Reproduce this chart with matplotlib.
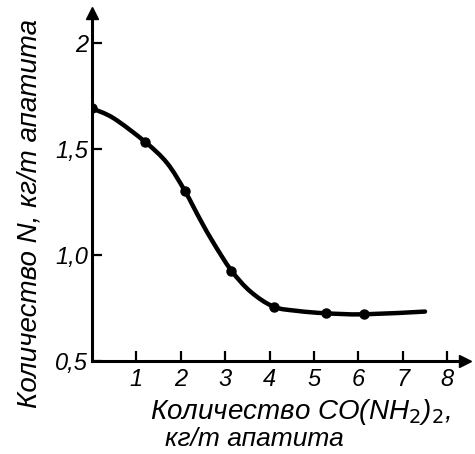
import matplotlib.pyplot as plt
from matplotlib.path import Path
import matplotlib.patches as patches

urea = [0, 1.2, 2.09, 3.14, 4.09, 5.26, 6.12]
nitrogen = [1.69, 1.532, 1.302, 0.926, 0.756, 0.725, 0.72]

# points
curve_x = [0, 0.48, 1.2, 1.69, 2.09, 2.44, 2.74, 3.14, 3.57, 4.09, 4.63, 5.26, 6.12, 7.5]
curve_y = [1.69, 1.645, 1.532, 1.433, 1.302, 1.165, 1.055, 0.926, 0.827, 0.756, 0.736, 0.725,
           0.72, 0.733]

xticks = [1, 2, 3, 4, 5, 6, 7, 8]
yticks = [0.5, 1.0, 1.5, 2.0]
ytick_labels = ["0,5", "1,0", "1,5", "2"]


def smooth_path(xs, ys):
    # Catmull-Rom through the read points, drawn as cubic bezier segments
    pts = list(zip(xs, ys))
    verts = [pts[0]]
    codes = [Path.MOVETO]
    n = len(pts)
    for i in range(n - 1):
        p0 = pts[i - 1] if i > 0 else pts[i]
        p1 = pts[i]
        p2 = pts[i + 1]
        p3 = pts[i + 2] if i + 2 < n else pts[i + 1]
        c1 = (p1[0] + (p2[0] - p0[0]) / 6, p1[1] + (p2[1] - p0[1]) / 6)
        c2 = (p2[0] - (p3[0] - p1[0]) / 6, p2[1] - (p3[1] - p1[1]) / 6)
        verts += [c1, c2, p2]
        codes += [Path.CURVE4] * 3
    return Path(verts, codes)


plt.rcParams['font.family'] = ['Liberation Sans Narrow', 'Liberation Sans', 'DejaVu Sans']

fig = plt.figure(figsize=(4.75, 4.54), dpi=100)
ax = fig.add_axes([92/475, 93/454, 373/475, 348/454])

ax.add_patch(patches.PathPatch(smooth_path(curve_x, curve_y), fill=False, ec='black', lw=3.2,
                               capstyle='round'))
ax.plot(urea, nitrogen, 'o', color='black', ms=6.5)

ax.set_xlim(0, 8.4)
ax.set_ylim(0.5, 2.14)

for s in ['top', 'right']:
    ax.spines[s].set_visible(False)
for s in ['left', 'bottom']:
    ax.spines[s].set_linewidth(2.2)

# arrow heads on the axes
ax.plot(1, 0, '>', color='black', ms=9, transform=ax.transAxes, clip_on=False)
ax.plot(0, 1, '^', color='black', ms=9, transform=ax.transAxes, clip_on=False)

ax.set_xticks(xticks)
ax.set_xticklabels([str(t) for t in xticks], style='italic', fontsize=17)
ax.set_yticks(yticks)
ax.set_yticklabels(ytick_labels, style='italic', fontsize=17)
ax.tick_params(axis='both', direction='in', length=7, width=1.6)
ax.tick_params(axis='x', pad=5)
ax.tick_params(axis='y', pad=3)

fig.text(0.062, 0.53, "Количество N, кг/т апатита", rotation=90, ha='center', va='center',
         style='italic', fontsize=20)
fig.text(150/475, 1 - 412/454, r"Количество CO(NH$_2$)$_2$,", ha='left', va='center',
         style='italic', fontsize=20)
fig.text(165/475, 1 - 439/454, "кг/т апатита", ha='left', va='center',
         style='italic', fontsize=19)

fig.savefig('out.png', dpi=100)
